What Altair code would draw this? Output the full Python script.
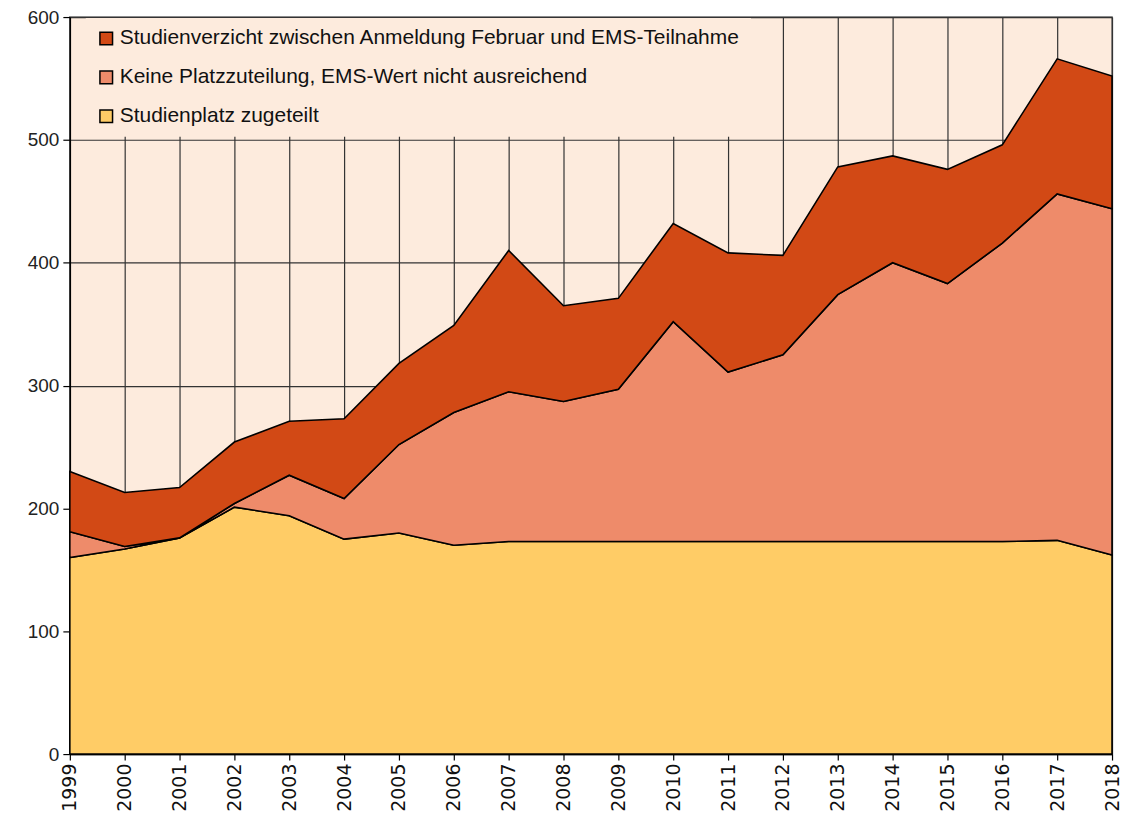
import altair as alt
import pandas as pd

years = list(range(1999, 2019))
zugeteilt = [160, 167, 176, 201, 194, 175, 180, 170, 173, 173, 173, 173, 173, 173, 173, 173, 173, 173, 174, 162]
keine = [21, 2, 0, 3, 33, 33, 72, 108, 122, 114, 124, 179, 138, 152, 201, 227, 210, 243, 282, 282]
verzicht = [49, 44, 41, 50, 44, 65, 66, 71, 115, 78, 74, 80, 97, 81, 104, 87, 93, 80, 110, 108]

series_names = [
    "Studienverzicht zwischen Anmeldung Februar und EMS-Teilnahme",
    "Keine Platzzuteilung, EMS-Wert nicht ausreichend",
    "Studienplatz zugeteilt",
]
colors = ["#D24915", "#EE8B6A", "#FFCC66"]
y_ticks = [0, 100, 200, 300, 400, 500, 600]

rows = []
for i, yr in enumerate(years):
    rows.append({"Jahr": yr, "Kategorie": series_names[2], "Anzahl": zugeteilt[i], "rang": 0})
    rows.append({"Jahr": yr, "Kategorie": series_names[1], "Anzahl": keine[i], "rang": 1})
    rows.append({"Jahr": yr, "Kategorie": series_names[0], "Anzahl": verzicht[i], "rang": 2})
df = pd.DataFrame(rows)

chart = alt.Chart(df).mark_area(
    stroke="black", strokeWidth=1.6, strokeJoin="miter", opacity=1
).encode(
    x=alt.X(
        "Jahr:Q",
        scale=alt.Scale(domain=[1999, 2018], nice=False, zero=False),
        axis=alt.Axis(
            values=years, format="d", labelAngle=270, title=None,
            labelFont="DejaVu Sans", labelFontSize=19, labelColor="#111",
            tickColor="black", tickSize=6, tickWidth=1.2,
            domainColor="black", domainWidth=1.5, labelPadding=3,
            grid=True, gridColor="#333333", gridWidth=1.2,
        ),
    ),
    y=alt.Y(
        "Anzahl:Q",
        stack="zero",
        scale=alt.Scale(domain=[0, 600], nice=False),
        axis=alt.Axis(
            values=y_ticks, title=None,
            labelFont="Liberation Sans", labelFontSize=19, labelColor="#222",
            tickColor="black", tickSize=7, tickWidth=1.2,
            domainColor="black", domainWidth=1.5, labelPadding=4,
            grid=True, gridColor="#333333", gridWidth=1.2,
        ),
    ),
    color=alt.Color(
        "Kategorie:N",
        scale=alt.Scale(domain=series_names, range=colors),
        legend=alt.Legend(
            title=None, orient="none", legendX=16, legendY=1,
            padding=10, rowPadding=17, fillColor="#FDEBDD",
            symbolType="square", symbolSize=160, symbolStrokeColor="black",
            symbolStrokeWidth=1.5, symbolOpacity=1,
            labelFont="Liberation Sans", labelFontSize=21, labelColor="#111",
            labelOffset=3, labelLimit=900,
        ),
    ),
    order=alt.Order("rang:Q", sort="ascending"),
).properties(
    width=1045,
    height=739,
    autosize=alt.AutoSizeParams(type="none"),
    padding={"left": 62, "top": 8, "right": 10, "bottom": 58},
).configure(
    background="white"
).configure_view(
    fill="#FDEBDD", stroke="#666666", strokeWidth=1.5
)

chart.save("out.html", embed_options={"renderer": "svg", "actions": False})
